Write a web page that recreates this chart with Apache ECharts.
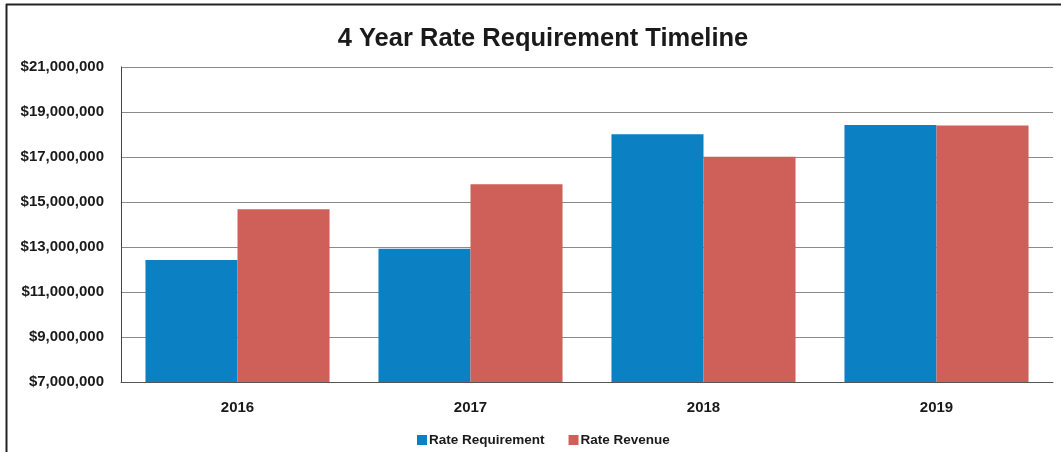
<!DOCTYPE html>
<html>
<head>
<meta charset="utf-8">
<script src="https://cdn.jsdelivr.net/npm/echarts@6/dist/echarts.min.js"></script>
<style>
  html, body { margin: 0; padding: 0; background: #fff; }
  #chart { width: 1061px; height: 452px; }
</style>
</head>
<body>
<div id="chart"></div>
<script>
// Years on the category axis
const years = ['2016', '2017', '2018', '2019'];
// Annual dollar amounts
const rateRequirement = [12420000, 12920000, 18010000, 18420000];
const rateRevenue = [14680000, 15790000, 17010000, 18400000];
// Value axis range in dollars
const yMin = 7000000;
const yMax = 21000000;
const yStep = 2000000;

const fontFamily = '"Liberation Sans", Arial, sans-serif';

const chart = echarts.init(document.getElementById('chart'), null, { renderer: 'canvas' });

chart.setOption({
  animation: false,
  backgroundColor: '#ffffff',
  title: {
    text: '4 Year Rate Requirement Timeline',
    left: 538,
    top: 21,
    textAlign: 'center',
    textStyle: { fontFamily, fontSize: 25.5, fontWeight: 'bold', color: '#1a1a1a' }
  },
  legend: {
    data: ['Rate Requirement', 'Rate Revenue'],
    left: 412,
    top: 428,
    itemWidth: 10,
    itemHeight: 10,
    itemGap: 24,
    icon: 'rect',
    textStyle: { fontFamily, fontSize: 13.5, fontWeight: 'bold', color: '#1a1a1a', padding: [0, 0, 0, -3] }
  },
  grid: { left: 121, right: 8, top: 67, bottom: 70, containLabel: false },
  xAxis: {
    type: 'category',
    data: years,
    axisLine: { show: true, lineStyle: { color: '#555', width: 1 } },
    axisTick: { show: false },
    axisLabel: { fontFamily, fontSize: 15, fontWeight: 'bold', color: '#1a1a1a', margin: 18 }
  },
  yAxis: {
    type: 'value',
    min: yMin,
    max: yMax,
    interval: yStep,
    axisLine: { show: true, lineStyle: { color: '#444', width: 1 } },
    axisTick: { show: false },
    splitLine: { show: true, lineStyle: { color: '#8a8a8a', width: 1 } },
    axisLabel: {
      fontFamily, fontSize: 15, fontWeight: 'bold', color: '#1a1a1a', margin: 17,
      formatter: v => '$' + v.toLocaleString('en-US')
    }
  },
  series: [
    {
      name: 'Rate Requirement',
      type: 'bar',
      data: rateRequirement,
      barGap: '0%',
      barCategoryGap: '21%',
      itemStyle: { color: '#0b80c2' }
    },
    {
      name: 'Rate Revenue',
      type: 'bar',
      data: rateRevenue,
      itemStyle: { color: '#cf5f59' }
    }
  ],
  graphic: [
    // page frame lines along the top and left edges
    { type: 'line', shape: { x1: 6, y1: 4.5, x2: 1061, y2: 4.5 }, style: { stroke: '#222', lineWidth: 2 } },
    { type: 'line', shape: { x1: 6.5, y1: 4, x2: 6.5, y2: 452 }, style: { stroke: '#222', lineWidth: 2 } }
  ]
});
</script>
</body>
</html>
